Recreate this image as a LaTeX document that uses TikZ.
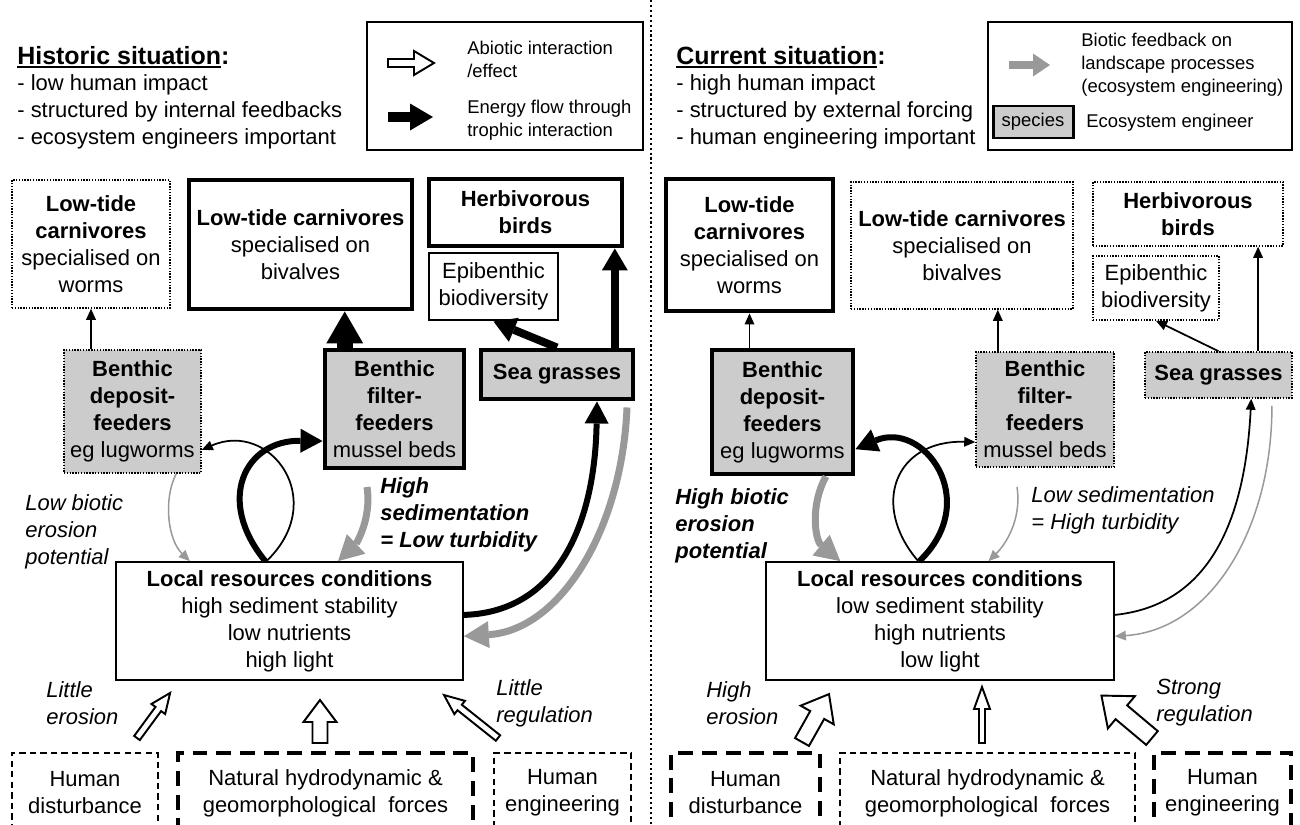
\documentclass[tikz,border=0pt]{standalone}
\usepackage{fontspec}
\setmainfont{Liberation Sans}
\usetikzlibrary{arrows.meta}

\newcommand{\bodyfont}{\fontsize{12.5}{15.4}\selectfont}
\newcommand{\legfont}{\fontsize{10.5}{13}\selectfont}
\newcommand{\titlefont}{\fontsize{14.2}{17}\selectfont\bfseries}
\newlength{\ulwd}
\newcommand{\ultitle}[1]{\settowidth{\ulwd}{#1}\rlap{\rule[-2.3pt]{\ulwd}{1.1pt}}#1}
% tail, angle, length, half shaft, half head, head length
\newcommand{\hollowarrow}[6]{%
  \draw[abio, shift={(#1)}, rotate=#2]
    (0,-#4) -- ({#3-#6},-#4) -- ({#3-#6},-#5) -- (#3,0)
    -- ({#3-#6},#5) -- ({#3-#6},#4) -- (0,#4) -- cycle;}

\definecolor{engfill}{gray}{0.8}
\definecolor{engline}{gray}{0.6}

\tikzset{
  every node/.style={font=\bodyfont, align=center, inner sep=0pt},
  sz/.style 2 args={minimum width=#1*0.2mm, minimum height=#2*0.2mm},
  thinbox/.style={draw, line width=1pt},
  midbox/.style={draw, line width=1.7pt},
  thickbox/.style={draw, line width=2.8pt},
  dotbox/.style={draw, line width=0.9pt, dash pattern=on 0.8pt off 0.8pt},
  engineer/.style={fill=engfill},
  dashthin/.style={draw, line width=0.9pt, dash pattern=on 3.6pt off 2.4pt},
  dashthick/.style={draw, line width=2.6pt, dash pattern=on 8.5pt off 5pt},
  lbl/.style={anchor=west, align=left, font=\bodyfont\itshape},
  lblb/.style={lbl, font=\bodyfont\bfseries\itshape},
  abio/.style={draw, fill=white, line width=1.1pt, line join=miter},
  trophbig/.style={line width=3.2mm, -{Triangle[length=6.4mm,width=7.4mm,line width=0pt]}},
  trophmid/.style={line width=1.6mm, -{Triangle[length=4.4mm,width=5.2mm,line width=0pt]}},
  trophthick/.style={line width=1.2mm, -{Triangle[length=4.4mm,width=4.8mm,line width=0pt]}},
  trophthin/.style={line width=0.35mm, -{Triangle[length=2.2mm,width=2mm,line width=0pt]}},
  engthick/.style={engline, line width=1.4mm, -{Triangle[length=5mm,width=5.4mm,line width=0pt]}},
  engthin/.style={engline, line width=0.3mm, -{Triangle[length=2.2mm,width=2mm,line width=0pt]}}
}

\begin{document}
\begin{tikzpicture}[x=0.2mm, y=-0.2mm]
\path[fill=white, use as bounding box] (0,0) rectangle (1300,825);
\clip (0,0) rectangle (1300,825);

\draw[line width=1.2pt, dash pattern=on 1.2pt off 1.6pt] (651,0) -- (651,825);

% historic situation
\node[anchor=west, font=\titlefont] (histt) at (17,57) {\ultitle{Historic situation}:};
\node[anchor=west, align=left] (histl) at (17,112) {- low human impact\\- structured by internal feedbacks\\- ecosystem engineers important};

\node[thinbox, sz={276}{128}] (legl) at (505,86) {};
\coordinate (tleg) at (388,63);
\hollowarrow{tleg}{0}{46}{4}{12}{20}
\node[anchor=west, align=left, font=\legfont] (legat) at (467,59) {Abiotic interaction\\/effect};
\coordinate (lega) at (388,117);
\coordinate (legb) at (433,117);
\draw[line width=2mm, -{Triangle[length=4.6mm,width=5.4mm,line width=0pt]}] (lega) -- (legb);
\node[anchor=west, align=left, font=\legfont] (legbt) at (467,120) {Energy flow through\\trophic interaction};

\node[dotbox, sz={158}{128}] (ltw) at (91,244) {\textbf{Low-tide}\\\textbf{carnivores}\\specialised on\\worms};
\node[thickbox, sz={223}{129}] (ltb) at (300.5,244.5) {\textbf{Low-tide carnivores}\\specialised on\\bivalves};
\node[thickbox, sz={193}{67}] (hbl) at (525.5,212.5) {\textbf{Herbivorous}\\\textbf{birds}};
\node[midbox, sz={129}{67}] (epl) at (493.5,286.5) {Epibenthic\\biodiversity};
\node[dotbox, engineer, sz={137}{123}] (dfl) at (132.5,411.5) {\textbf{Benthic}\\\textbf{deposit-}\\\textbf{feeders}\\eg lugworms};
\node[thickbox, engineer, sz={139}{118}] (ffl) at (394.5,409) {\textbf{Benthic}\\\textbf{filter-}\\\textbf{feeders}\\mussel beds};
\node[thickbox, engineer, sz={152}{49}] (sgl) at (557,374.5) {\textbf{Sea grasses}};
\node[thinbox, sz={347}{118}] (lrl) at (289.5,621) {\textbf{Local resources conditions}\\high sediment stability\\low nutrients\\high light};
\node[dashthin, sz={146}{80}] (hdl) at (85,793) {Human\\disturbance};
\node[dashthick, sz={295}{80}] (nfl) at (325.5,793) {Natural hydrodynamic \&\\geomorphological~~forces};
\node[dashthin, sz={137}{80}] (hel) at (562.5,793) {Human\\engineering};

\draw[trophthin] (ltw.south |- dfl.north) -- (ltw.south);
\draw[trophbig] (ffl.129) -- (ffl.129 |- ltb.south);
\draw[trophmid] (sgl.north) -- (epl.south);
\draw[trophmid] (sgl.25) -- (sgl.25 |- hbl.south);
\draw[trophthick] (lrl.112) .. controls (215,500) and (245,440) .. (ffl.204);
\draw[trophthin] (lrl.111) .. controls (330,500) and (270,420) .. (dfl.331);
\draw[engthin] (dfl.305) .. controls (163,500) and (168,540) .. (lrl.149);
\coordinate (hsl) at (367,487);
\draw[engthick] (hsl) .. controls (372,520) and (355,545) .. (lrl.51);
\draw[trophthick] (lrl.2) .. controls (560,612) and (595,520) .. (sgl.-34);
\draw[engthick, shorten <=1.2mm] (sgl.-21) .. controls (622,530) and (560,630) .. (lrl.-5);

\node[lbl] (lbel) at (25,532) {Low biotic\\erosion\\potential};
\node[lblb] (hsed) at (380,515) {High\\sedimentation\\= Low turbidity};
\node[lbl] (lero) at (46,703) {Little\\erosion};
\node[lbl] (lreg) at (496,703) {Little\\regulation};

\coordinate (ta1) at (137,738);
\coordinate (ta2) at (320,743);
\coordinate (ta3) at (498,738);
\hollowarrow{ta1}{53.7}{56}{3.5}{8.5}{20}
\hollowarrow{ta2}{90}{43}{7.5}{16.5}{22}
\hollowarrow{ta3}{141.5}{69}{3.5}{8.5}{20}

% current situation
\node[anchor=west, font=\titlefont] (curt) at (676,57) {\ultitle{Current situation}:};
\node[anchor=west, align=left] (curl) at (676,112) {- high human impact\\- structured by external forcing\\- human engineering important};

\node[thinbox, sz={304}{128}] (legr) at (1140,86) {};
\coordinate (legc) at (1009,65);
\coordinate (legd) at (1050,65);
\draw[engline, line width=1.6mm, -{Triangle[length=3.4mm,width=4.6mm,line width=0pt]}] (legc) -- (legd);
\node[anchor=west, align=left, font=\legfont] (legct) at (1081,65) {Biotic feedback on\\landscape processes\\(ecosystem engineering)};
\node[midbox, engineer, sz={80}{32}, font=\legfont] (spc) at (1033,122) {species};
\node[anchor=west, font=\legfont] (legdt) at (1086,123) {Ecosystem engineer};

\node[thickbox, sz={167}{132}] (ltwr) at (749.5,245) {\textbf{Low-tide}\\\textbf{carnivores}\\specialised on\\worms};
\node[dotbox, sz={222}{127}] (ltbr) at (962,245.5) {\textbf{Low-tide carnivores}\\specialised on\\bivalves};
\node[dotbox, sz={190}{64}] (hbr) at (1188,214) {\textbf{Herbivorous}\\\textbf{birds}};
\node[dotbox, sz={126}{64}] (epr) at (1156,288) {Epibenthic\\biodiversity};
\node[thickbox, engineer, sz={141}{124}] (dfr) at (782.5,412) {\textbf{Benthic}\\\textbf{deposit-}\\\textbf{feeders}\\eg lugworms};
\node[dotbox, engineer, sz={138}{115}] (ffr) at (1045,409.5) {\textbf{Benthic}\\\textbf{filter-}\\\textbf{feeders}\\mussel beds};
\node[dotbox, engineer, sz={147}{46}] (sgr) at (1218.5,375) {\textbf{Sea grasses}};
\node[thinbox, sz={348}{118}] (lrr) at (940,621) {\textbf{Local resources conditions}\\low sediment stability\\high nutrients\\low light};
\node[dashthick, sz={149}{80}] (hdr) at (745.5,793) {Human\\disturbance};
\node[dashthin, sz={295}{80}] (nfr) at (987.5,793) {Natural hydrodynamic \&\\geomorphological~~forces};
\node[dashthick, sz={137}{80}] (her) at (1222.5,793) {Human\\engineering};

\draw[trophthin] (dfr.north -| ltwr.south) -- (ltwr.south);
\draw[trophthin] (ffr.129) -- (ffr.129 |- ltbr.south);
\draw[trophthin] (sgr.north) -- (epr.south);
\draw[trophthin] (sgr.31) -- (sgr.31 |- hbr.south);
\draw[trophthick] (lrr.109) .. controls (983,500) and (923,420) .. (dfr.333);
\draw[trophthin] (lrr.110) .. controls (870,505) and (895,440) .. (ffr.205);
\draw[engthick] (dfr.304) .. controls (810,505) and (815,540) .. (lrr.149);
\coordinate (lsr) at (1017,487);
\draw[engthin] (lsr) .. controls (1022,520) and (1005,545) .. (lrr.51);
\draw[trophthin] (lrr.2) .. controls (1210,605) and (1245,520) .. (sgr.-36);
\draw[engthin, shorten <=1.4mm] (sgr.-24) .. controls (1272,530) and (1210,630) .. (lrr.-5);

\node[lblb] (hbe) at (675,526) {High biotic\\erosion\\potential};
\node[lbl] (lsed) at (1031,510) {Low sedimentation\\= High turbidity};
\node[lbl] (hero) at (706,703) {High\\erosion};
\node[lbl] (sreg) at (1156,703) {Strong\\regulation};

\coordinate (tb1) at (802,742);
\coordinate (tb2) at (982,743);
\coordinate (tb3) at (1152,738);
\hollowarrow{tb1}{60.6}{55}{8}{19}{24}
\hollowarrow{tb2}{90}{56}{3}{8}{22}
\hollowarrow{tb3}{140}{66}{9}{21}{26}
\end{tikzpicture}
\end{document}
